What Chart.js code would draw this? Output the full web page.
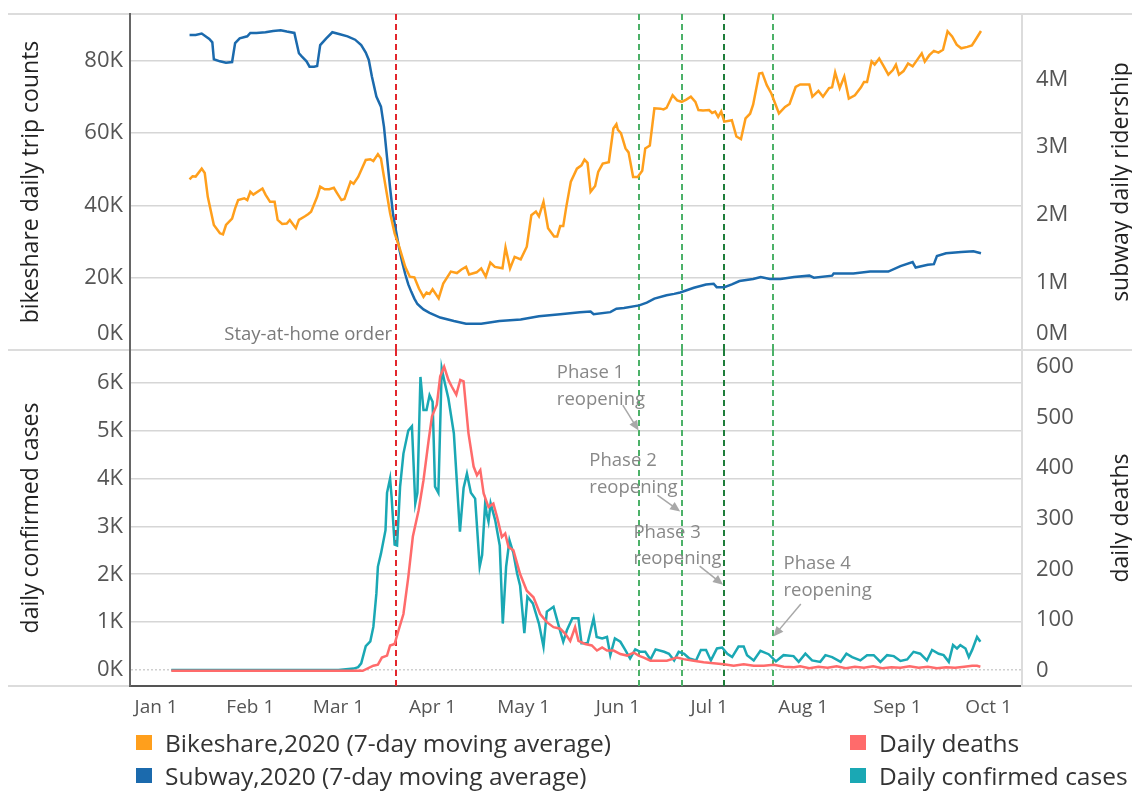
<!DOCTYPE html>
<html>
<head>
<meta charset="utf-8">
<title>Bikeshare, subway and COVID-19, 2020</title>
<script src="https://cdn.jsdelivr.net/npm/chart.js@4.4.0/dist/chart.umd.min.js"></script>
<style>
    body { margin: 0; background: #fff; font-family: 'Open Sans', sans-serif; }
    #wrap { position: relative; width: 1132px; height: 793px; overflow: hidden; }
    #wrap canvas { position: absolute; left: 0; }
    #topChart { top: 0; }
    #bottomChart { top: 340px; }
    .legend { position: absolute; font-size: 24.5px; color: #333; line-height: 33px; }
    .legend div { display: flex; align-items: center; white-space: nowrap; }
    .legend span { display: inline-block; width: 16px; height: 15px; margin-right: 13px; }
</style>
</head>
<body>
<div id="wrap">
    <canvas id="topChart" width="1132" height="352"></canvas>
    <canvas id="bottomChart" width="1132" height="400"></canvas>
    <div class="legend" style="left:136px; top:726px;">
        <div><span style="background:#FF9F1C"></span>Bikeshare,2020 (7-day moving average)</div>
        <div><span style="background:#1B6AAD"></span>Subway,2020 (7-day moving average)</div>
    </div>
    <div class="legend" style="left:850px; top:726px;">
        <div><span style="background:#FF6B6B"></span>Daily deaths</div>
        <div><span style="background:#1AA8B4"></span>Daily confirmed cases</div>
    </div>
</div>
<script>
// Days are counted from Jan 1, 2020 (= day 0)
const monthDays = [0, 31, 60, 91, 121, 152, 182, 213, 244, 274];
const monthLabels = ['Jan 1', 'Feb 1', 'Mar 1', 'Apr 1', 'May 1', 'Jun 1', 'Jul 1', 'Aug 1', 'Sep 1', 'Oct 1'];

const tripTicks = [0, 20, 40, 60, 80];          // thousands
const riderTicks = [0, 1, 2, 3, 4];             // millions
const caseTicks = [0, 1000, 2000, 3000, 4000, 5000, 6000];
const deathTicks = [0, 100, 200, 300, 400, 500, 600];

// Bikeshare daily trips, 7-day moving average (thousands)
const bikeDays = [
    11, 12, 13, 15, 16, 17, 19, 21, 22, 23,
    25, 26, 27, 29, 30, 31, 32, 35, 36, 37.5,
    39, 40, 41.5, 43, 44, 46, 47, 49, 50, 51,
    53, 54, 55.5, 57, 58.5, 59.5, 61, 62, 64, 65,
    66.5, 69, 70.5, 71.5, 73, 74, 75, 77, 78.5, 80,
    82, 83.5, 85, 86.5, 88, 89, 90, 91, 93, 94.5,
    97, 99, 100.5, 102, 103, 105.5, 107, 108.5, 110, 111.5,
    114, 115, 116.5, 118, 120, 122, 123.5, 125, 126, 127.5,
    129, 131, 132, 133, 134, 135, 136.5, 138.5, 140, 141,
    142, 143, 144.5, 145.5, 147, 149, 150.5, 151.5, 152, 153,
    154.5, 155.5, 157, 158.5, 160, 161, 162.5, 164, 166, 167,
    168, 170, 171.5, 173, 174.5, 176, 177.5, 178.5, 180, 182,
    183, 184, 185, 186, 187, 189.5, 191, 192.5, 194, 195.5,
    196.5, 198.5, 199.5, 201, 202.5, 205, 207, 208.5, 210.5, 212,
    215, 216, 218, 219.5, 221.5, 222.5, 223.5, 225, 226.5, 228,
    230, 232, 233, 234, 235.5, 236.5, 238, 239.5, 241, 242.5,
    243.5, 244.5, 246, 247.5, 249, 250.5, 252, 253, 254.5, 256,
    257.5, 259, 260.5, 262, 263.5, 265, 267, 268.5, 269.5, 271.5
];
const bikeTripsK = [
    47.2, 48.1, 48.0, 50.2, 49.0, 42.4, 34.6, 32.3, 32.0, 34.6,
    36.4, 39.2, 41.5, 42.0, 41.5, 43.8, 43.0, 44.7, 43.0, 41.0,
    41.0, 36.0, 34.9, 35.0, 36.0, 33.7, 36.0, 37.0, 37.6, 38.3,
    42.4, 45.2, 44.5, 44.5, 44.9, 43.5, 41.5, 41.8, 46.6, 46.0,
    47.9, 52.6, 52.8, 52.3, 54.2, 53.0, 47.9, 37.9, 32.3, 28.6,
    23.0, 20.3, 20.1, 17.0, 14.7, 15.9, 15.5, 16.8, 14.3, 18.4,
    21.7, 21.3, 22.3, 23.0, 20.9, 21.5, 22.6, 20.3, 24.2, 23.0,
    22.6, 28.4, 22.6, 25.8, 25.1, 28.6, 37.3, 38.3, 37.0, 41.0,
    33.7, 31.4, 31.4, 34.3, 34.3, 39.6, 46.6, 50.2, 51.1, 52.7,
    51.8, 43.8, 45.4, 49.3, 51.6, 52.0, 61.3, 62.5, 60.9, 60.0,
    55.8, 54.7, 47.9, 47.9, 49.6, 55.8, 56.6, 66.9, 66.8, 66.6,
    67.0, 70.5, 69.1, 68.7, 69.3, 70.1, 68.7, 66.4, 66.3, 66.4,
    65.6, 66.0, 64.5, 66.0, 63.2, 63.6, 59.1, 58.4, 64.1, 65.4,
    67.9, 76.5, 76.7, 73.3, 71.0, 65.5, 67.3, 68.1, 72.8, 73.5,
    73.5, 70.1, 71.7, 70.1, 72.5, 72.7, 76.8, 72.5, 75.7, 69.6,
    70.5, 72.7, 74.2, 74.2, 79.9, 79.0, 80.7, 78.5, 76.2, 77.5,
    79.0, 76.2, 77.2, 79.3, 78.5, 80.3, 82.1, 79.8, 81.6, 82.8,
    82.3, 83.1, 88.2, 86.8, 84.5, 83.5, 83.9, 84.3, 85.6, 88.3
];

// Subway daily ridership, 7-day moving average (millions)
const subwayDays = [
    11, 13, 15, 17.5, 18.5, 19, 21, 23, 25, 26,
    27.5, 30, 31, 33, 36, 38.5, 41, 43, 45.5, 47,
    48, 49.5, 50.5, 52, 53, 54, 56, 58, 60.5, 63,
    65.5, 67.5, 69, 70, 71, 72.5, 74, 75, 76, 77,
    78, 79, 80, 81, 82, 83, 84, 85, 86, 87,
    88, 90, 93.5, 98, 102, 107, 113, 120, 126, 133,
    139.5, 143, 144, 149.5, 151.5, 154, 159, 161.5, 164, 168,
    170.5, 172.5, 177, 181, 183.5, 184.5, 187, 189.5, 192, 196.5,
    199, 202, 205.5, 210, 215, 216.5, 222.5, 223, 229.5, 235,
    241, 245, 249, 250, 254, 256, 257, 260, 265, 269,
    271.5
];
const subwayRidersM = [
    4.66, 4.66, 4.68, 4.60, 4.55, 4.30, 4.27, 4.25, 4.26, 4.54,
    4.61, 4.64, 4.69, 4.69, 4.70, 4.72, 4.73, 4.71, 4.69, 4.39,
    4.34, 4.27, 4.19, 4.19, 4.20, 4.51, 4.61, 4.70, 4.67, 4.64,
    4.59, 4.51, 4.40, 4.29, 4.05, 3.75, 3.60, 3.30, 2.85, 2.40,
    2.00, 1.75, 1.50, 1.30, 1.12, 0.97, 0.86, 0.76, 0.68, 0.64,
    0.60, 0.55, 0.48, 0.43, 0.39, 0.39, 0.43, 0.45, 0.50, 0.53,
    0.56, 0.57, 0.53, 0.56, 0.61, 0.62, 0.66, 0.70, 0.76, 0.81,
    0.83, 0.85, 0.92, 0.97, 0.98, 0.93, 0.93, 0.97, 1.02, 1.05,
    1.08, 1.05, 1.05, 1.08, 1.10, 1.07, 1.10, 1.13, 1.13, 1.16,
    1.16, 1.24, 1.30, 1.22, 1.26, 1.27, 1.39, 1.43, 1.45, 1.46,
    1.43
];

// Daily confirmed cases
const caseDays = [
    5, 60, 65, 66.5, 67.5, 69, 70.5, 71.5, 72.5, 73,
    74, 75.5, 76, 77, 77.5, 78.5, 79.3, 80.3, 81.4, 83,
    84.2, 85.3, 86, 87, 88, 89, 90, 91, 91.8, 92.9,
    94, 95, 96.2, 98, 100, 101.2, 102.3, 103.6, 105, 106.5,
    107.3, 108.3, 108.8, 109.4, 110.1, 111.6, 113.1, 114.1, 115.2, 116.3,
    117.6, 118.8, 119.8, 121.2, 122.2, 124, 126, 127.5, 128.6, 130.8,
    132.6, 134, 135.2, 137, 139, 140, 142, 144, 145, 146.8,
    148.4, 149.5, 151, 152.8, 154.4, 156, 157.7, 159.4, 161, 162.7,
    164.4, 167.2, 168.8, 170.5, 172, 173.8, 175.5, 177.7, 179.3, 181,
    182.6, 184.6, 186.3, 188, 189.6, 191.7, 193.4, 194.5, 196.7, 198.9,
    201.6, 204, 206.5, 209.8, 211.5, 213.7, 215.9, 218.6, 220.3, 222.5,
    225.3, 227.2, 229.1, 231.8, 234, 236.2, 238.4, 240.6, 242.8, 245,
    247.2, 249.3, 251.5, 253.7, 255.4, 257.6, 259.2, 260.9, 262.3, 263.6,
    264.7, 266.4, 267.5, 268.6, 270.2, 271.3
];
const caseCounts = [
    0, 0, 30, 60, 140, 500, 600, 900, 1600, 2160,
    2430, 2920, 3700, 4000, 3620, 2620, 2600, 3830, 4520, 5000,
    5090, 3480, 3700, 6120, 5430, 5430, 5740, 5600, 3830, 3700,
    6300, 6000, 5670, 4940, 2890, 3800, 4100, 3700, 3580, 2160,
    2400, 3480, 3270, 3100, 3480, 3130, 2600, 970, 2160, 2710,
    2440, 2020, 1760, 770, 1530, 1390, 970, 490, 1220, 1320,
    900, 590, 830, 1080, 1080, 560, 560, 1080, 690, 660,
    690, 310, 660, 590, 420, 240, 430, 380, 380, 220,
    430, 380, 340, 200, 380, 340, 240, 200, 420, 420,
    200, 450, 470, 340, 270, 490, 490, 310, 200, 400,
    330, 180, 310, 290, 170, 340, 200, 170, 310, 270,
    170, 340, 270, 200, 310, 310, 170, 310, 290, 190,
    220, 380, 340, 200, 420, 340, 310, 170, 520, 450,
    520, 450, 270, 420, 690, 590
];

// Daily deaths
const deathDays = [
    5, 68, 71.5, 73, 74.3, 76, 77, 78.5, 79.8, 81.4,
    83, 84.5, 86.4, 88, 89.7, 90.8, 92.4, 93.5, 94.8, 96.2,
    97.3, 98.8, 100.1, 101.2, 102.8, 104.5, 105.6, 106.7, 107.8, 109.4,
    111, 112.2, 113.8, 114.9, 116, 117.6, 119.8, 122, 124.2, 126.4,
    128.6, 130.8, 133, 134.7, 136.3, 137.9, 139, 141.2, 143.4, 145.1,
    146.8, 148.4, 150.6, 152.8, 155, 157.2, 158.8, 160.5, 162.7, 164.9,
    168.1, 171.4, 173.6, 176.9, 180.2, 183.5, 186.8, 190.1, 193.4, 196.7,
    200, 203.3, 206.6, 209.9, 212, 215, 218, 221, 224, 227,
    230, 233, 236, 239, 242, 245, 248, 251, 254, 257,
    260, 263, 266, 268.6, 270.2, 271.3
];
const deathCounts = [
    0, 0, 10, 12, 26, 30, 50, 53, 80, 112,
    185, 265, 317, 376, 455, 502, 525, 581, 600, 574,
    561, 545, 574, 571, 469, 403, 386, 396, 350, 323,
    330, 304, 264, 271, 244, 238, 191, 158, 145, 112,
    96, 86, 83, 73, 59, 86, 59, 53, 50, 40,
    46, 40, 40, 33, 30, 36, 30, 26, 20, 20,
    20, 26, 23, 20, 17, 15, 13, 10, 13, 10,
    10, 12, 8, 7, 9, 5, 8, 6, 9, 5,
    8, 6, 9, 5, 7, 6, 9, 6, 8, 5,
    7, 6, 8, 10, 10, 8
];

// Policy events (day of year) and their labels
const stayHomeDay = 79;
const stayHomeLabel = 'Stay-at-home order';
const phaseDays = [159, 173, 187, 203];
const phaseLabels = [['Phase 1', 'reopening'], ['Phase 2', 'reopening'], ['Phase 3', 'reopening'], ['Phase 4', 'reopening']];

// Where the phase notes sit: [day, cases] for text, arrow tail and arrow tip
const phaseNoteLayout = [
    { text: [131.9, 6210], tail: [153.6, 5530], tip: [158.8, 5000] },
    { text: [142.6, 4370], tail: [165.0, 3650], tip: [172.5, 3310] },
    { text: [157.1, 2870], tail: [178.9, 2170], tip: [186.6, 1780] },
    { text: [206.5, 2210], tail: [212.2, 1380], tip: [203.2, 700] }
];

const xMin = -8.6;
const xMax = 285;

const tickColor = '#555';
const titleColor = '#222';
const gridColor = '#d6d6d6';
const frameColor = '#dcdcdc';
const phaseColors = ['#4CB168', '#4CB168', '#1E7D3A', '#4CB168'];

Chart.defaults.font.family = "'Open Sans', sans-serif";

const pairs = (xs, ys) => xs.map((x, i) => ({ x: x, y: ys[i] }));

// Force an axis box width, drop the edge padding Chart.js adds for labels
const fixBox = (width) => (scale) => {
    scale.width = width;
    scale.paddingTop = 0;
    scale.paddingBottom = 0;
};

// Lift the "0" label above the panel edge like the original does
const liftZero = (c) => ({
    size: 22,
    lineHeight: c.tick && c.tick.value === 0 ? '32px' : 1.2
});

// Horizontal panel borders spanning the whole figure
const panelFrame = (edges) => ({
    id: 'panelFrame',
    beforeDraw(chart) {
        const { ctx, chartArea } = chart;
        ctx.save();
        ctx.strokeStyle = frameColor;
        ctx.lineWidth = 2;
        edges.forEach(edge => {
            const y = chartArea[edge];
            ctx.beginPath();
            ctx.moveTo(8, y);
            ctx.lineTo(chart.width, y);
            ctx.stroke();
        });
        ctx.restore();
    }
});

// Dashed vertical reference lines for the policy dates
const refLines = {
    id: 'refLines',
    beforeDatasetsDraw(chart) {
        const { ctx, chartArea, scales: { x } } = chart;
        const days = [stayHomeDay].concat(phaseDays);
        const colors = ['#E3262C'].concat(phaseColors);
        ctx.save();
        ctx.lineWidth = 2;
        ctx.setLineDash([6, 4]);
        days.forEach((day, i) => {
            const px = Math.round(x.getPixelForValue(day));
            ctx.strokeStyle = colors[i];
            ctx.beginPath();
            ctx.moveTo(px, chartArea.top);
            ctx.lineTo(px, chartArea.bottom);
            ctx.stroke();
        });
        ctx.restore();
    }
};

// Right-hand axis title, reading bottom to top
const sideTitle = (text) => ({
    id: 'sideTitle',
    afterDraw(chart) {
        const { ctx, chartArea } = chart;
        ctx.save();
        ctx.translate(1121, (chartArea.top + chartArea.bottom) / 2);
        ctx.rotate(-Math.PI / 2);
        ctx.font = "23px 'Open Sans', sans-serif";
        ctx.fillStyle = titleColor;
        ctx.textAlign = 'center';
        ctx.textBaseline = 'middle';
        ctx.fillText(text, 0, 0);
        ctx.restore();
    }
});

const stayHomeNote = {
    id: 'stayHomeNote',
    afterDraw(chart) {
        const { ctx, chartArea, scales: { x } } = chart;
        ctx.save();
        ctx.font = "18.5px 'Open Sans', sans-serif";
        ctx.fillStyle = '#7a7a7a';
        ctx.textAlign = 'right';
        ctx.textBaseline = 'middle';
        ctx.fillText(stayHomeLabel, x.getPixelForValue(stayHomeDay) - 4, chartArea.bottom - 15);
        ctx.restore();
    }
};

const phaseNotes = {
    id: 'phaseNotes',
    afterDraw(chart) {
        const { ctx, scales: { x, y } } = chart;
        const pt = (p) => [x.getPixelForValue(p[0]), y.getPixelForValue(p[1])];
        ctx.save();
        phaseNoteLayout.forEach((note, i) => {
            const [tx, ty] = pt(note.text);
            ctx.font = "18.5px 'Open Sans', sans-serif";
            ctx.fillStyle = '#888';
            ctx.textAlign = 'left';
            ctx.textBaseline = 'middle';
            phaseLabels[i].forEach((line, j) => ctx.fillText(line, tx, ty + j * 26.6));

            const [ax, ay] = pt(note.tail);
            const [bx, by] = pt(note.tip);
            const ang = Math.atan2(by - ay, bx - ax);
            ctx.strokeStyle = '#a8a8a8';
            ctx.fillStyle = '#a8a8a8';
            ctx.lineWidth = 1.5;
            ctx.beginPath();
            ctx.moveTo(ax, ay);
            ctx.lineTo(bx - 7 * Math.cos(ang), by - 7 * Math.sin(ang));
            ctx.stroke();
            ctx.beginPath();
            ctx.moveTo(bx, by);
            ctx.lineTo(bx - 10 * Math.cos(ang) + 4.5 * Math.sin(ang), by - 10 * Math.sin(ang) - 4.5 * Math.cos(ang));
            ctx.lineTo(bx - 10 * Math.cos(ang) - 4.5 * Math.sin(ang), by - 10 * Math.sin(ang) + 4.5 * Math.cos(ang));
            ctx.closePath();
            ctx.fill();
        });
        ctx.restore();
    }
};

const baseOptions = () => ({
    responsive: false,
    animation: false,
    events: [],
    elements: {
        point: { radius: 0 },
        line: { borderWidth: 2.5, tension: 0 }
    },
    plugins: {
        legend: { display: false },
        tooltip: { enabled: false }
    }
});

// Top panel: bikeshare trips and subway ridership
const initTopChart = () => {
    const options = baseOptions();
    options.layout = { padding: { top: 14, bottom: 2, left: 0, right: 0 } };
    options.scales = {
        x: { type: 'linear', display: false, min: xMin, max: xMax },
        y: {
            position: 'left',
            min: 0,
            max: 93,
            afterBuildTicks: (s) => { s.ticks = tripTicks.map(v => ({ value: v })); },
            afterFit: fixBox(130),
            ticks: {
                color: tickColor,
                padding: 7,
                font: liftZero,
                callback: (v) => v === 0 ? [v + 'K', ''] : v + 'K'
            },
            grid: { color: gridColor, lineWidth: 1.5, drawTicks: false },
            border: { color: '#666', width: 2 },
            title: {
                display: true,
                text: 'bikeshare daily trip counts',
                color: titleColor,
                font: { size: 23 },
                padding: { top: 18, bottom: 0 }
            }
        },
        y1: {
            position: 'right',
            min: 0,
            max: 4.97,
            afterBuildTicks: (s) => { s.ticks = riderTicks.map(v => ({ value: v })); },
            afterFit: fixBox(110),
            ticks: {
                color: tickColor,
                padding: 6,
                font: liftZero,
                callback: (v) => v === 0 ? [v + 'M', ''] : v + 'M'
            },
            grid: { display: false },
            border: { color: frameColor, width: 2 }
        }
    };

    new Chart(document.getElementById('topChart'), {
        type: 'line',
        data: {
            datasets: [{
                label: 'Bikeshare,2020 (7-day moving average)',
                data: pairs(bikeDays, bikeTripsK),
                borderColor: '#FF9F1C',
                yAxisID: 'y'
            }, {
                label: 'Subway,2020 (7-day moving average)',
                data: pairs(subwayDays, subwayRidersM),
                borderColor: '#1B6AAD',
                yAxisID: 'y1'
            }]
        },
        options: options,
        plugins: [panelFrame(['top', 'bottom']), refLines, stayHomeNote, sideTitle('subway daily ridership')]
    });
};

// Bottom panel: confirmed cases and deaths
const initBottomChart = () => {
    const options = baseOptions();
    options.layout = { padding: { top: 10, bottom: 0, left: 0, right: 0 } };
    options.scales = {
        x: {
            type: 'linear',
            min: xMin,
            max: xMax,
            afterBuildTicks: (s) => { s.ticks = monthDays.map(v => ({ value: v })); },
            afterFit: (s) => { s.height = 54; s.paddingLeft = 0; s.paddingRight = 0; },
            ticks: {
                autoSkip: false,
                maxRotation: 0,
                padding: 2,
                color: tickColor,
                font: { size: 19 },
                callback: (v) => monthLabels[monthDays.indexOf(v)]
            },
            grid: { display: false },
            border: { color: '#555', width: 2 }
        },
        y: {
            position: 'left',
            min: -334,
            max: 6683,
            afterBuildTicks: (s) => { s.ticks = caseTicks.map(v => ({ value: v })); },
            afterFit: fixBox(130),
            ticks: {
                color: tickColor,
                padding: 7,
                font: { size: 22 },
                callback: (v) => (v / 1000) + 'K'
            },
            grid: {
                color: (c) => c.tick && c.tick.value === 0 ? '#cfcfcf' : gridColor,
                lineWidth: 1.5,
                drawTicks: false
            },
            border: {
                color: '#666',
                width: 2,
                dash: (c) => c.tick && c.tick.value === 0 ? [2, 2] : []
            },
            title: {
                display: true,
                text: 'daily confirmed cases',
                color: titleColor,
                font: { size: 23 },
                padding: { top: 18, bottom: 0 }
            }
        },
        y1: {
            position: 'right',
            min: -30,
            max: 633,
            afterBuildTicks: (s) => { s.ticks = deathTicks.map(v => ({ value: v })); },
            afterFit: fixBox(110),
            ticks: { color: tickColor, padding: 6, font: { size: 22 } },
            grid: { display: false },
            border: { color: frameColor, width: 2 }
        }
    };

    new Chart(document.getElementById('bottomChart'), {
        type: 'line',
        data: {
            datasets: [{
                label: 'Daily deaths',
                data: pairs(deathDays, deathCounts),
                borderColor: '#FF6B6B',
                yAxisID: 'y1'
            }, {
                label: 'Daily confirmed cases',
                data: pairs(caseDays, caseCounts),
                borderColor: '#1AA8B4',
                yAxisID: 'y'
            }]
        },
        options: options,
        plugins: [panelFrame(['bottom']), refLines, phaseNotes, sideTitle('daily deaths')]
    });
};

initTopChart();
initBottomChart();
</script>
</body>
</html>
